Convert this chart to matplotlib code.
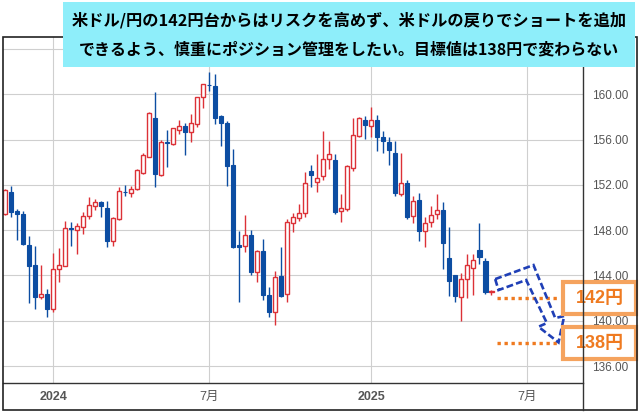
import numpy as np
import pandas as pd
import matplotlib
matplotlib.use("Agg")
import matplotlib.pyplot as plt
from matplotlib.patches import Rectangle, Polygon
from matplotlib.lines import Line2D

plt.rcParams["font.family"] = ["Liberation Sans", "Noto Sans CJK JP"]

# weekly USD/JPY candles, first week starts 2023-11-06
first_week = "2023-11-06"
opens = [149.4, 151.35, 149.7, 149.4, 146.7, 144.9, 142.1, 142.4, 141.0, 144.55,
         144.85, 148.2, 148.05, 148.3, 149.25, 150.15, 150.45, 150.0, 147.0, 149.0,
         151.4, 151.3, 151.6, 153.05, 154.5, 157.9, 152.9, 155.8, 155.6, 156.85,
         157.2, 156.7, 157.35, 159.75, 160.85, 160.7, 158.1, 157.5, 153.75, 146.65,
         146.6, 147.55, 144.3, 146.2, 142.3, 140.75, 143.95, 142.35, 148.65, 149.05,
         149.5, 153.2, 152.25, 152.75, 154.3, 154.2, 149.65, 149.9, 153.5, 156.3,
         157.75, 157.2, 157.7, 156.2, 155.75, 154.8, 151.2, 152.2, 149.25, 150.7,
         147.95, 148.7, 149.4, 149.8, 145.55, 144.0, 142.1, 143.65, 144.7, 146.25,
         145.3, 142.5]
highs = [151.6, 151.9, 149.9, 149.7, 147.5, 146.6, 144.9, 142.8, 146.0, 146.4,
         148.8, 148.7, 148.6, 149.6, 150.9, 150.75, 150.55, 150.55, 149.2, 151.85,
         151.95, 151.9, 153.4, 154.8, 158.4, 160.2, 155.95, 156.85, 157.05, 157.7,
         157.45, 158.3, 159.8, 160.95, 161.95, 161.8, 158.2, 157.65, 155.15, 147.9,
         149.3, 148.0, 146.25, 147.25, 142.95, 144.4, 146.5, 149.0, 149.5, 150.3,
         153.1, 153.75, 154.7, 156.8, 155.9, 154.7, 151.2, 153.75, 157.9, 158.0,
         158.1, 158.85, 158.2, 156.75, 156.2, 155.9, 154.8, 152.4, 151.0, 151.25,
         149.2, 150.15, 151.2, 150.45, 148.25, 144.0, 144.2, 145.9, 145.9, 148.6,
         145.55, 142.75]
lows = [149.3, 149.2, 147.15, 146.7, 141.6, 141.0, 141.9, 140.3, 140.8, 143.45,
        144.8, 146.6, 145.9, 147.7, 149.0, 149.8, 149.2, 146.55, 146.6, 148.9,
        151.0, 150.9, 151.55, 152.95, 154.45, 151.85, 152.8, 153.6, 155.5, 156.5,
        154.6, 155.75, 157.15, 158.8, 160.3, 157.4, 155.4, 151.9, 146.4, 141.7,
        146.1, 144.0, 143.45, 141.8, 140.3, 139.6, 142.1, 141.7, 147.8, 148.85,
        149.15, 151.85, 151.35, 152.45, 153.4, 149.45, 148.7, 149.7, 153.2, 156.2,
        156.05, 156.25, 155.0, 154.8, 153.75, 151.0, 151.0, 148.95, 148.6, 147.0,
        146.55, 148.25, 148.95, 144.55, 142.2, 141.7, 140.0, 142.0, 142.3, 145.05,
        142.4, 142.3]
closes = [151.55, 149.6, 149.4, 146.75, 144.85, 142.1, 142.4, 141.0, 144.6, 144.9,
          148.2, 148.1, 148.4, 149.25, 150.2, 150.45, 150.1, 147.0, 149.05, 151.45,
          151.35, 151.65, 153.3, 154.65, 158.35, 152.95, 155.8, 155.7, 157.0, 157.2,
          156.7, 157.45, 159.75, 160.9, 160.8, 157.9, 157.45, 153.7, 146.5, 146.55,
          147.6, 144.3, 146.2, 142.25, 140.75, 143.85, 142.15, 148.7, 149.15, 149.5,
          152.2, 152.9, 152.6, 154.25, 154.7, 149.6, 149.95, 153.65, 156.4, 157.9,
          157.25, 157.7, 156.25, 155.9, 155.1, 151.3, 152.2, 149.2, 150.6, 147.95,
          148.6, 149.35, 149.8, 146.9, 143.5, 142.2, 143.7, 144.9, 145.35, 145.6,
          142.55, 142.6]

price_ticks = [136, 140, 144, 148, 152, 156, 160, 164]
levels = [142, 138]
level_labels = ["142円", "138円"]
title_lines = ["米ドル/円の142円台からはリスクを高めず、米ドルの戻りでショートを追加",
               "できるよう、慎重にポジション管理をしたい。目標値は138円で変わらない"]

RED = "#dc3137"
BLUE = "#0c4da2"
ORANGE = "#ef7a20"
BOX_EDGE = "#f5a35e"
GRID = "#cfcfcf"

fig = plt.figure(figsize=(6.4, 4.12), dpi=100)
W, H = 640.0, 412.0
ax = fig.add_axes([3 / W, (H - 382.7) / H, 579.7 / W, 345.7 / H])

x = np.arange(len(opens))
o = np.array(opens)
c = np.array(closes)
up = c >= o

# wicks
ax.vlines(x[up], np.array(lows)[up], np.array(highs)[up], color=RED, lw=1.0, zorder=2)
ax.vlines(x[~up], np.array(lows)[~up], np.array(highs)[~up], color=BLUE, lw=1.0, zorder=2)

# bodies
body_h = np.maximum(np.abs(c - o), 0.06)
body_b = np.minimum(o, c)
ax.bar(x[up], body_h[up], bottom=body_b[up], width=0.68, facecolor="white",
       edgecolor=RED, linewidth=1.0, zorder=3)
ax.bar(x[~up], body_h[~up], bottom=body_b[~up], width=0.68, facecolor=BLUE,
       edgecolor=BLUE, linewidth=0.8, zorder=3)

ax.set_xlim(-0.38, 96.2)
ax.set_ylim(134.53, 165.06)

# month ticks: first week starting in Jan / Jul
weeks = pd.date_range(first_week, periods=97, freq="W-MON")
tick_pos, tick_lab = [], []
for i in range(1, len(weeks)):
    if weeks[i].month != weeks[i - 1].month and weeks[i].month in (1, 7):
        tick_pos.append(i)
        tick_lab.append(str(weeks[i].year) if weeks[i].month == 1 else "7月")
ax.set_xticks(tick_pos)
ax.set_xticklabels(tick_lab)
for t in ax.get_xticklabels():
    if t.get_text().isdigit():
        t.set_fontweight("bold")

# top gridline sits under the headline box, so no label there
ax.set_yticks(price_ticks)
ax.set_yticklabels(["%.2f" % v if v < 164 else "" for v in price_ticks])
ax.yaxis.tick_right()
ax.tick_params(axis="y", length=0, pad=7, labelsize=8.5, labelcolor="#555555")
ax.tick_params(axis="x", length=0, pad=6, labelsize=9, labelcolor="#555555")
ax.grid(True, color=GRID, lw=0.8, zorder=0)
ax.set_axisbelow(True)

for s in ["left", "top", "right"]:
    ax.spines[s].set_visible(False)
ax.spines["bottom"].set_color("#333333")
ax.spines["bottom"].set_linewidth(1.0)

# target levels
ax.hlines(levels, 82.0, 92.3, colors=ORANGE, lw=2.4, linestyles=(0, (1, 1.1)), zorder=4)
for lv, lab in zip(levels, level_labels):
    ax.add_patch(Rectangle((93.0, lv - 1.41), 12.0, 2.83, facecolor="white",
                           edgecolor=BOX_EDGE, lw=3, clip_on=False, zorder=6))
    ax.text(99.0, lv, lab, ha="center", va="center", fontsize=13, fontweight="bold",
            color=ORANGE, family=["Liberation Sans", "Noto Sans CJK JP"],
            clip_on=False, zorder=7)

# dashed bent arrow
arrow = [(81.62, 143.68), (88.0, 144.92), (91.62, 140.24), (93.12, 140.42),
         (92.17, 138.09), (88.83, 139.47), (90.23, 139.80), (86.78, 143.60),
         (82.17, 142.71)]
ax.add_patch(Polygon(arrow, closed=True, fill=False, edgecolor="#1f3fb6", lw=1.9,
                     linestyle=(0, (2.6, 1.2)), clip_on=False, zorder=5))

# outer frame and axis line
fig.add_artist(Rectangle((3 / W, (H - 410) / H), 634 / W, 373 / H, fill=False,
                         edgecolor="#222222", lw=1.2, transform=fig.transFigure))
fig.add_artist(Line2D([582.7 / W, 582.7 / W], [(H - 410) / H, (H - 37) / H],
                      color="#333333", lw=1.0, transform=fig.transFigure))

# headline box
fig.add_artist(Rectangle((63 / W, (H - 67) / H), 572 / W, 65 / H, facecolor="#8eeefa",
                         edgecolor="none", transform=fig.transFigure, zorder=8))
fig.text(349 / W, 1 - 20 / H, title_lines[0], ha="center", va="center", fontsize=11.7,
         fontweight="bold", family="Noto Sans CJK JP", zorder=9)
fig.text(349 / W, 1 - 49 / H, title_lines[1], ha="center", va="center", fontsize=11.5,
         fontweight="bold", family="Noto Sans CJK JP", zorder=9)

fig.savefig("out.png", dpi=100)
